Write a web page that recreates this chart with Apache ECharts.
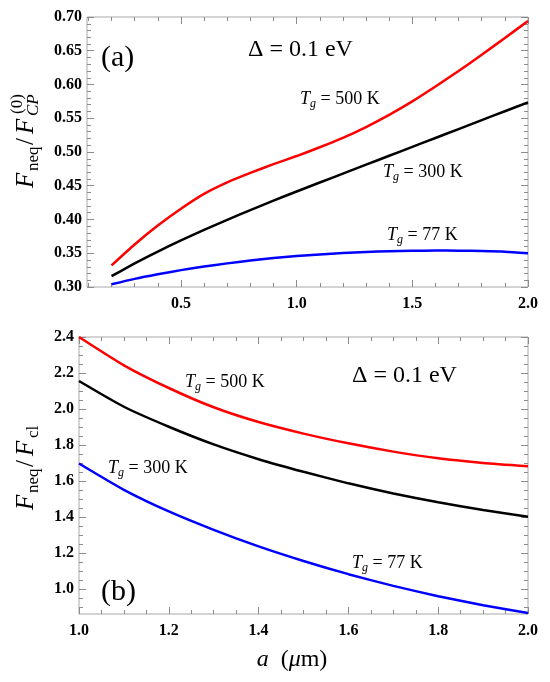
<!DOCTYPE html>
<html>
<head>
<meta charset="utf-8">
<script src="https://cdn.jsdelivr.net/npm/echarts@6/dist/echarts.min.js"></script>
<style>
  html, body { margin: 0; padding: 0; background: #fff; }
  #chart { width: 550px; height: 682px; }
</style>
</head>
<body>
<div id="chart"></div>
<script>
// panel (a): a in um vs F_neq / F_CP^(0)
const aTop = [0.2, 0.3, 0.4, 0.5, 0.6, 0.7, 0.8, 0.9, 1.0, 1.1, 1.2, 1.3, 1.4, 1.5, 1.6, 1.7, 1.8, 1.9, 2.0];
const top500 = [0.332, 0.363, 0.391, 0.416, 0.438, 0.455, 0.469, 0.482, 0.494, 0.507, 0.521, 0.537, 0.555, 0.575, 0.597, 0.620, 0.644, 0.669, 0.694];
const top300 = [0.316, 0.335, 0.3525, 0.369, 0.3845, 0.3995, 0.414, 0.428, 0.4415, 0.4548, 0.468, 0.4812, 0.4944, 0.5076, 0.5208, 0.534, 0.5472, 0.5604, 0.5736];
const top77 = [0.304, 0.312, 0.3188, 0.325, 0.3303, 0.335, 0.3392, 0.3428, 0.3458, 0.3483, 0.3503, 0.3518, 0.353, 0.3537, 0.354, 0.3538, 0.3532, 0.3522, 0.350];

// panel (b): a in um vs F_neq / F_cl
const aBot = [1.0, 1.1, 1.2, 1.3, 1.4, 1.5, 1.6, 1.7, 1.8, 1.9, 2.0];
const bot500 = [2.400, 2.243, 2.117, 2.010, 1.928, 1.864, 1.810, 1.764, 1.727, 1.701, 1.683];
const bot300 = [2.156, 2.013, 1.902, 1.804, 1.722, 1.652, 1.588, 1.532, 1.483, 1.440, 1.402];
const bot77 = [1.698, 1.552, 1.432, 1.330, 1.238, 1.157, 1.084, 1.019, 0.962, 0.912, 0.868];

// tick values
const topXLabels = [0.5, 1.0, 1.5, 2.0];
const topXMinor = [0.1, 0.2, 0.3, 0.4, 0.6, 0.7, 0.8, 0.9, 1.1, 1.2, 1.3, 1.4, 1.6, 1.7, 1.8, 1.9];
const botYLabels = [1.0, 1.2, 1.4, 1.6, 1.8, 2.0, 2.2, 2.4];
const botYMinor = [0.9, 0.95, 1.05, 1.1, 1.15, 1.25, 1.3, 1.35, 1.45, 1.5, 1.55, 1.65, 1.7, 1.75,
  1.85, 1.9, 1.95, 2.05, 2.1, 2.15, 2.25, 2.3, 2.35];

const SERIF = 'Liberation Serif';
const FRAME = '#a8a8a8';
const TICK = '#8c8c8c';

function pairs(xs, ys) {
  return xs.map((x, i) => [x, ys[i]]);
}

const tickLabel = {
  color: '#000',
  fontFamily: SERIF,
  fontWeight: 'bold',
  fontSize: 16
};

// one axis with inward ticks; labels optional
function axis(grid, pos, range, opts) {
  const a = {
    type: 'value',
    gridIndex: grid,
    position: pos,
    min: range[0],
    max: range[1],
    axisLine: { show: false },
    splitLine: { show: false },
    axisTick: { show: true, inside: true, length: opts.len || 7, lineStyle: { color: TICK, width: 1 } },
    axisLabel: Object.assign({ show: !!opts.label, margin: 7 }, tickLabel, opts.label || {})
  };
  if (opts.interval) a.interval = opts.interval;
  if (opts.ticks) a.axisTick.customValues = opts.ticks;
  if (opts.label && opts.label.customValues) a.axisLabel.customValues = opts.label.customValues;
  if (opts.minor) a.minorTick = { show: true, splitNumber: opts.minor, length: 4, lineStyle: { color: TICK, width: 1 } };
  return a;
}

const fmt1 = v => v.toFixed(1);
const fmt2 = v => v.toFixed(2);

const topX = [0.094, 2.0];
const topY = [0.30, 0.70];
const botX = [1.0, 2.0];
const botY = [0.863, 2.4];

const xAxes = [
  axis(0, 'bottom', topX, { ticks: topXLabels, label: { customValues: topXLabels, formatter: fmt1, margin: 9 } }),
  axis(0, 'bottom', topX, { ticks: topXMinor, len: 4 }),
  axis(0, 'top', topX, { ticks: topXLabels }),
  axis(0, 'top', topX, { ticks: topXMinor, len: 4 }),
  axis(1, 'bottom', botX, { interval: 0.2, minor: 4, label: { formatter: fmt1, margin: 9 } }),
  axis(1, 'top', botX, { interval: 0.2, minor: 4 })
];

const yAxes = [
  axis(0, 'left', topY, { interval: 0.05, minor: 5, label: { formatter: fmt2, margin: 5 } }),
  axis(0, 'right', topY, { interval: 0.05, minor: 5 }),
  axis(1, 'left', botY, { ticks: botYLabels, label: { customValues: botYLabels, formatter: fmt1, margin: 5 } }),
  axis(1, 'left', botY, { ticks: botYMinor, len: 4 }),
  axis(1, 'right', botY, { ticks: botYLabels }),
  axis(1, 'right', botY, { ticks: botYMinor, len: 4 })
];

function line(name, color, xi, yi, data) {
  return {
    name: name,
    type: 'line',
    xAxisIndex: xi,
    yAxisIndex: yi,
    data: data,
    smooth: 0.2,
    showSymbol: false,
    silent: true,
    lineStyle: { color: color, width: 2.5 }
  };
}

const richT = {
  it: { fontFamily: SERIF, fontStyle: 'italic', fontSize: 18, lineHeight: 22, fill: '#000' },
  sub: { fontFamily: SERIF, fontStyle: 'italic', fontSize: 12, lineHeight: 11, verticalAlign: 'bottom', fill: '#000' },
  n: { fontFamily: SERIF, fontSize: 18, lineHeight: 22, fill: '#000' }
};

function tLabel(x, y, kelvin) {
  return {
    type: 'text', x: x, y: y, silent: true,
    style: {
      text: '{it|T}{sub|g}{n| = ' + kelvin + ' K}',
      rich: richT,
      align: 'left', verticalAlign: 'middle',
      textAlign: 'left', textVerticalAlign: 'middle'
    }
  };
}

function plain(x, y, text, font, align) {
  return {
    type: 'text', x: x, y: y, silent: true,
    style: {
      text: text, font: font, fill: '#000',
      align: align || 'left', verticalAlign: 'middle',
      textAlign: align || 'left', textVerticalAlign: 'middle'
    }
  };
}

function deltaLabel(x, y) {
  return {
    type: 'text', x: x, y: y, silent: true,
    style: {
      text: '{n|\u0394 = 0.1 eV}',
      rich: { n: { fontFamily: SERIF, fontSize: 24, fill: '#000' } },
      align: 'left', verticalAlign: 'middle',
      textAlign: 'left', textVerticalAlign: 'middle'
    }
  };
}

// rotated y-axis titles, local x runs upward along the axis
function yTitle(x, y, parts) {
  return {
    type: 'group', x: x, y: y, rotation: Math.PI / 2, silent: true,
    children: parts.map(p => ({
      type: 'text', x: p[0], y: p[1],
      style: {
        text: p[2], font: p[3], fill: '#000',
        align: 'left', verticalAlign: 'middle',
        textAlign: 'left', textVerticalAlign: 'middle'
      }
    }))
  };
}

const BIG = '25px ' + SERIF;
const BIGI = 'italic 25px ' + SERIF;
const SUB = '17px ' + SERIF;
const SUBI = 'italic 17px ' + SERIF;

const chart = echarts.init(document.getElementById('chart'), null, { renderer: 'canvas' });

chart.setOption({
  animation: false,
  backgroundColor: '#fff',
  grid: [
    { left: 87, top: 17, width: 441, height: 270, show: true, borderColor: FRAME, borderWidth: 1, backgroundColor: 'transparent' },
    { left: 79, top: 337, width: 449, height: 277, show: true, borderColor: FRAME, borderWidth: 1, backgroundColor: 'transparent' }
  ],
  xAxis: xAxes,
  yAxis: yAxes,
  series: [
    line('Tg500a', '#ff0000', 0, 0, pairs(aTop, top500)),
    line('Tg300a', '#000000', 0, 0, pairs(aTop, top300)),
    line('Tg77a', '#0000ff', 0, 0, pairs(aTop, top77)),
    line('Tg500b', '#ff0000', 4, 2, pairs(aBot, bot500)),
    line('Tg300b', '#000000', 4, 2, pairs(aBot, bot300)),
    line('Tg77b', '#0000ff', 4, 2, pairs(aBot, bot77))
  ],
  graphic: [
    plain(101, 58, '(a)', '30px ' + SERIF),
    deltaLabel(248, 50),
    tLabel(300, 99, '500'),
    tLabel(383, 172, '300'),
    tLabel(387, 235, '77'),

    plain(101, 592, '(b)', '30px ' + SERIF),
    deltaLabel(352, 376),
    tLabel(185, 382, '500'),
    tLabel(108, 468, '300'),
    tLabel(352, 563, '77'),

    yTitle(35, 188, [
      [0, -8.5, 'F', BIGI],
      [17, -1, 'neq', SUB],
      [43, -8.5, '/', BIG],
      [54, -8.5, 'F', BIGI],
      [72, -1, 'CP', SUBI],
      [74, -17, '(0)', SUB]
    ]),
    yTitle(35, 510, [
      [0, -8.5, 'F', BIGI],
      [17, -1, 'neq', SUB],
      [43, -8.5, '/', BIG],
      [54, -8.5, 'F', BIGI],
      [72, -1, 'cl', SUB]
    ]),

    {
      type: 'text', x: 292, y: 660, silent: true,
      style: {
        text: '{i|a}{n|  (}{i|\u03bc}{n|m)}',
        rich: {
          i: { fontFamily: SERIF, fontStyle: 'italic', fontSize: 24, fill: '#000' },
          n: { fontFamily: SERIF, fontSize: 24, fill: '#000' }
        },
        align: 'center', verticalAlign: 'middle',
        textAlign: 'center', textVerticalAlign: 'middle'
      }
    }
  ]
});
</script>
</body>
</html>
